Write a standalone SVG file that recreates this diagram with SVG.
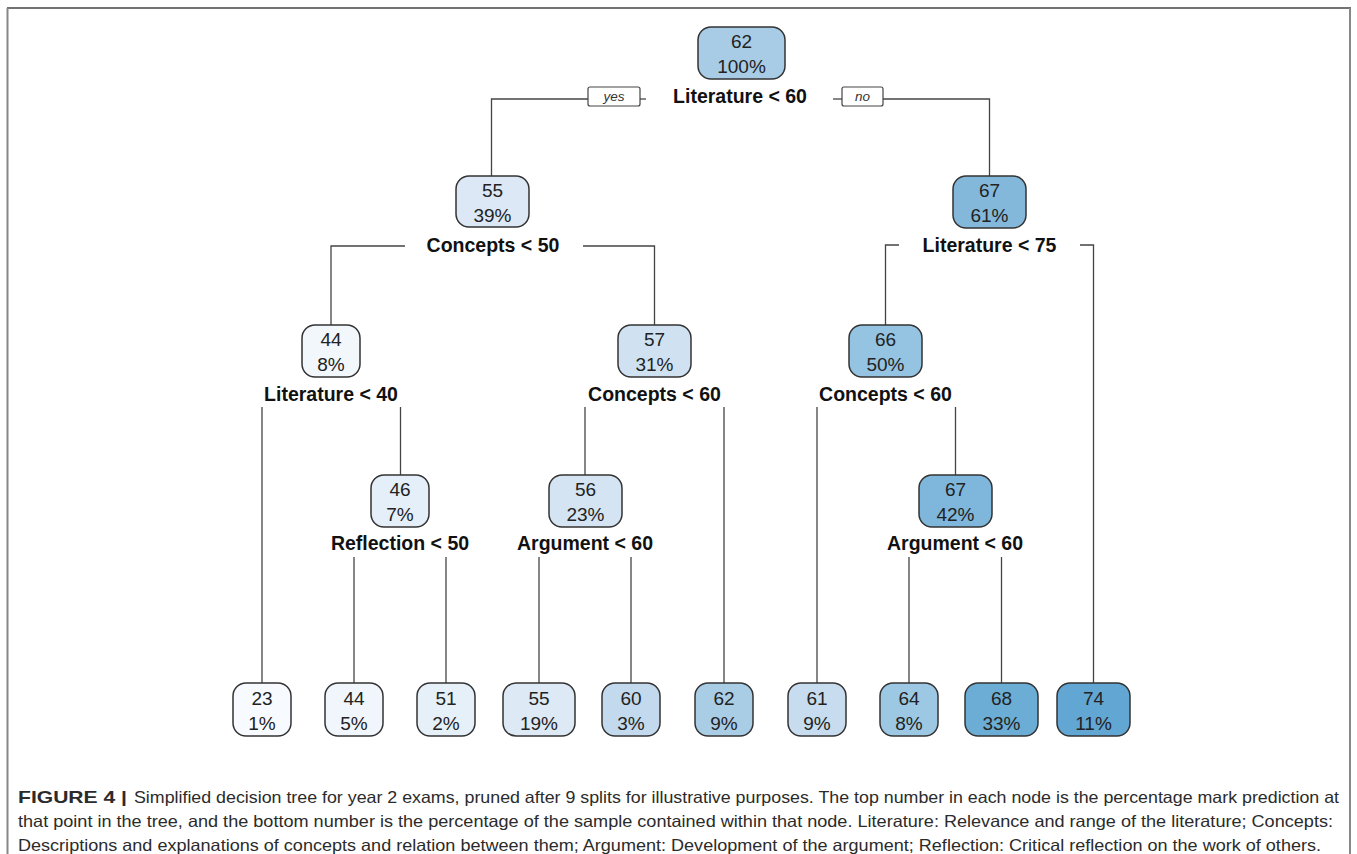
<svg xmlns="http://www.w3.org/2000/svg" width="1357" height="854" viewBox="0 0 1357 854">
<style>
.nd{stroke:#333;stroke-width:1.5}
.nt{font-family:"Liberation Sans",Arial,sans-serif;font-size:19px;fill:#222;text-anchor:middle}
.sp{font-family:"Liberation Sans",Arial,sans-serif;font-size:19.5px;font-weight:bold;fill:#111;text-anchor:middle}
.yn{font-family:"Liberation Sans",Arial,sans-serif;font-size:13.5px;font-style:italic;fill:#333;text-anchor:middle}
.ynb{fill:#fff;stroke:#444;stroke-width:1.2}
.cn{fill:none;stroke:#444;stroke-width:1.3}
.cap{font-family:"Liberation Sans",Arial,sans-serif;font-size:16.5px;fill:#2b2b2b}
</style>
<rect x="0" y="0" width="1357" height="854" fill="#fff"/>
<g id="frame">
<line x1="7" y1="8" x2="1351" y2="8" stroke="#444" stroke-width="1.6"/>
<line x1="7.5" y1="8" x2="7.5" y2="854" stroke="#888" stroke-width="2"/>
<line x1="1350" y1="8" x2="1350" y2="854" stroke="#888" stroke-width="2"/>
</g>
<g id="connectors">
<!-- root -->
<polyline class="cn" points="491.5,176 491.5,99 588,99"/>
<line class="cn" x1="640" y1="99" x2="646" y2="99"/>
<line class="cn" x1="833" y1="99" x2="842" y2="99"/>
<polyline class="cn" points="883,99 989.5,99 989.5,176"/>
<!-- n55 -->
<polyline class="cn" points="405,246 331,246 331,325"/>
<polyline class="cn" points="583,246 654.5,246 654.5,325"/>
<!-- n67a -->
<polyline class="cn" points="899,245 885.5,245 885.5,325"/>
<polyline class="cn" points="1080,245 1093.5,245 1093.5,683"/>
<!-- n44 -->
<line class="cn" x1="262" y1="407" x2="262" y2="683"/>
<line class="cn" x1="400.5" y1="407" x2="400.5" y2="475"/>
<!-- n57 -->
<line class="cn" x1="585" y1="407" x2="585" y2="475"/>
<line class="cn" x1="724" y1="407" x2="724" y2="683"/>
<!-- n66 -->
<line class="cn" x1="817" y1="407" x2="817" y2="683"/>
<line class="cn" x1="955.5" y1="407" x2="955.5" y2="475"/>
<!-- n46 -->
<line class="cn" x1="354" y1="557" x2="354" y2="683"/>
<line class="cn" x1="446" y1="557" x2="446" y2="683"/>
<!-- n56 -->
<line class="cn" x1="539" y1="557" x2="539" y2="683"/>
<line class="cn" x1="631" y1="557" x2="631" y2="683"/>
<!-- n67b -->
<line class="cn" x1="909" y1="557" x2="909" y2="683"/>
<line class="cn" x1="1001.5" y1="557" x2="1001.5" y2="683"/>
</g>
<g id="yes-no">
<rect class="ynb" x="588" y="87" width="52" height="19" rx="2"/>
<text class="yn" x="614" y="101">yes</text>
<rect class="ynb" x="842" y="87" width="41" height="19" rx="2"/>
<text class="yn" x="862.5" y="101">no</text>
</g>
<g id="node-root">
<rect class="nd" x="698" y="27" width="87" height="52" rx="13" fill="#A8CCE6"/>
<text class="nt" x="741.5" y="48">62</text><text class="nt" x="741.5" y="73">100%</text>
<text class="sp" x="740" y="103">Literature &lt; 60</text>
</g>
<g id="node-55">
<rect class="nd" x="456" y="176" width="73" height="51" rx="13" fill="#DCE8F5"/>
<text class="nt" x="492.5" y="197">55</text><text class="nt" x="492.5" y="222">39%</text>
<text class="sp" x="493" y="252">Concepts &lt; 50</text>
</g>
<g id="node-67a">
<rect class="nd" x="953" y="176" width="73" height="52" rx="13" fill="#83B8DB"/>
<text class="nt" x="989.5" y="197">67</text><text class="nt" x="989.5" y="222">61%</text>
<text class="sp" x="989.5" y="252">Literature &lt; 75</text>
</g>
<g id="node-44">
<rect class="nd" x="302" y="325" width="58" height="52" rx="13" fill="#F2F7FC"/>
<text class="nt" x="331" y="346">44</text><text class="nt" x="331" y="371">8%</text>
<text class="sp" x="331" y="401">Literature &lt; 40</text>
</g>
<g id="node-57">
<rect class="nd" x="618" y="325" width="73" height="52" rx="13" fill="#D0E2F2"/>
<text class="nt" x="654.5" y="346">57</text><text class="nt" x="654.5" y="371">31%</text>
<text class="sp" x="654.5" y="401">Concepts &lt; 60</text>
</g>
<g id="node-66">
<rect class="nd" x="849" y="325" width="73" height="52" rx="13" fill="#95C3E2"/>
<text class="nt" x="885.5" y="346">66</text><text class="nt" x="885.5" y="371">50%</text>
<text class="sp" x="885.5" y="401">Concepts &lt; 60</text>
</g>
<g id="node-46">
<rect class="nd" x="371" y="475" width="58" height="52" rx="13" fill="#E4EFF9"/>
<text class="nt" x="400" y="496">46</text><text class="nt" x="400" y="521">7%</text>
<text class="sp" x="400" y="550">Reflection &lt; 50</text>
</g>
<g id="node-56">
<rect class="nd" x="549" y="475" width="73" height="52" rx="13" fill="#D5E4F3"/>
<text class="nt" x="585.5" y="496">56</text><text class="nt" x="585.5" y="521">23%</text>
<text class="sp" x="585" y="550">Argument &lt; 60</text>
</g>
<g id="node-67b">
<rect class="nd" x="919" y="475" width="73" height="52" rx="13" fill="#7FB6DB"/>
<text class="nt" x="955.5" y="496">67</text><text class="nt" x="955.5" y="521">42%</text>
<text class="sp" x="955" y="550">Argument &lt; 60</text>
</g>
<g id="leaf-23">
<rect class="nd" x="233" y="683" width="58" height="53" rx="13" fill="#F7FBFF"/>
<text class="nt" x="262" y="705">23</text><text class="nt" x="262" y="730">1%</text>
</g>
<g id="leaf-44">
<rect class="nd" x="325" y="683" width="58" height="53" rx="13" fill="#F1F6FC"/>
<text class="nt" x="354" y="705">44</text><text class="nt" x="354" y="730">5%</text>
</g>
<g id="leaf-51">
<rect class="nd" x="417" y="683" width="58" height="53" rx="13" fill="#E6F0F9"/>
<text class="nt" x="446" y="705">51</text><text class="nt" x="446" y="730">2%</text>
</g>
<g id="leaf-55">
<rect class="nd" x="503" y="683" width="72" height="53" rx="13" fill="#DDE9F5"/>
<text class="nt" x="539" y="705">55</text><text class="nt" x="539" y="730">19%</text>
</g>
<g id="leaf-60">
<rect class="nd" x="602" y="683" width="58" height="53" rx="13" fill="#C3D9EE"/>
<text class="nt" x="631" y="705">60</text><text class="nt" x="631" y="730">3%</text>
</g>
<g id="leaf-62">
<rect class="nd" x="695" y="683" width="58" height="53" rx="13" fill="#AACDE6"/>
<text class="nt" x="724" y="705">62</text><text class="nt" x="724" y="730">9%</text>
</g>
<g id="leaf-61">
<rect class="nd" x="788" y="683" width="58" height="53" rx="13" fill="#C8DCEF"/>
<text class="nt" x="817" y="705">61</text><text class="nt" x="817" y="730">9%</text>
</g>
<g id="leaf-64">
<rect class="nd" x="880" y="683" width="58" height="53" rx="13" fill="#9DC8E4"/>
<text class="nt" x="909" y="705">64</text><text class="nt" x="909" y="730">8%</text>
</g>
<g id="leaf-68">
<rect class="nd" x="965" y="683" width="73" height="53" rx="13" fill="#6BADD5"/>
<text class="nt" x="1001.5" y="705">68</text><text class="nt" x="1001.5" y="730">33%</text>
</g>
<g id="leaf-74">
<rect class="nd" x="1057" y="683" width="73" height="53" rx="13" fill="#62A6D4"/>
<text class="nt" x="1093.5" y="705">74</text><text class="nt" x="1093.5" y="730">11%</text>
</g>
<g id="caption">
<text class="cap" x="18" y="803" font-weight="bold" fill="#111" textLength="109" lengthAdjust="spacingAndGlyphs">FIGURE 4 |</text>
<text class="cap" x="134" y="803" textLength="1205" lengthAdjust="spacingAndGlyphs">Simplified decision tree for year 2 exams, pruned after 9 splits for illustrative purposes. The top number in each node is the percentage mark prediction at</text>
<text class="cap" x="18" y="827" textLength="1315" lengthAdjust="spacingAndGlyphs">that point in the tree, and the bottom number is the percentage of the sample contained within that node. Literature: Relevance and range of the literature; Concepts:</text>
<text class="cap" x="18" y="851" textLength="1303" lengthAdjust="spacingAndGlyphs">Descriptions and explanations of concepts and relation between them; Argument: Development of the argument; Reflection: Critical reflection on the work of others.</text>
</g>
</svg>
